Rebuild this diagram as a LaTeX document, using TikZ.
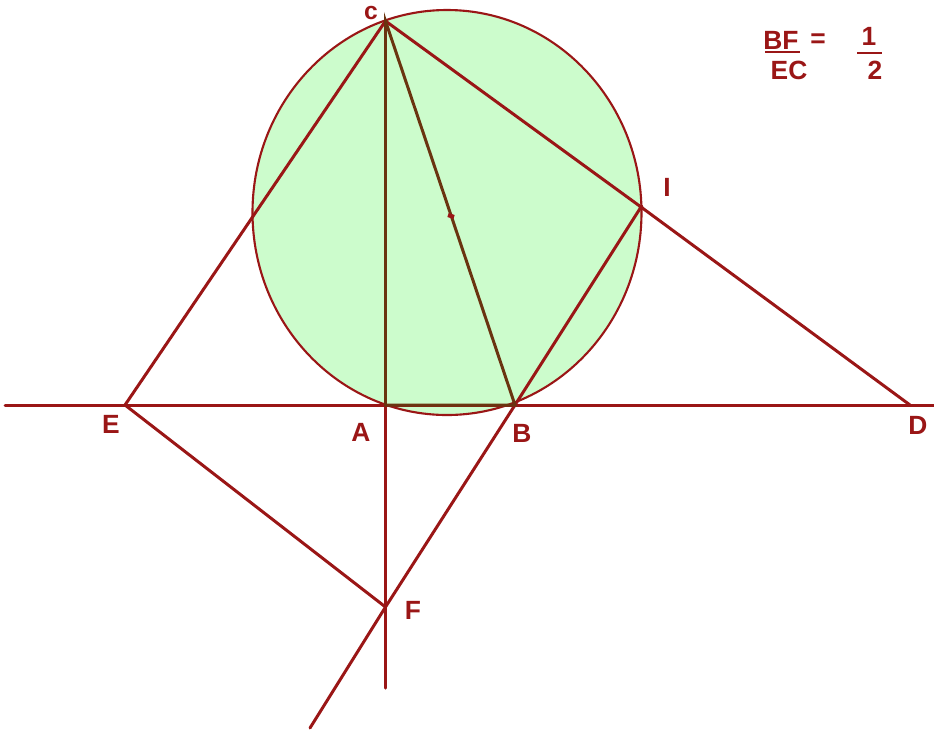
\documentclass[tikz,border=0pt]{standalone}
\usepackage{fontspec}
\setmainfont{Liberation Sans}
\usetikzlibrary{calc}
\definecolor{ink}{HTML}{9A1616}
\definecolor{brn}{HTML}{6A3410}
\definecolor{fillg}{HTML}{CCFCCC}
\begin{document}
\begin{tikzpicture}[x=0.02cm,y=-0.02cm,
  seg/.style={draw=ink,line width=1.7pt,line cap=round},
  tri/.style={draw=brn,line width=1.7pt,line cap=round},
  lbl/.style={text=ink,font=\fontsize{15}{15}\selectfont\bfseries,inner sep=0pt}]
\useasboundingbox (0,0) rectangle (934,735);
% circle
\filldraw[fill=fillg,draw=ink,line width=1.2pt] (447,212.5) ellipse [x radius=194.5,y radius=202.5];
% points
\coordinate (C) at (385.5,21);
\coordinate (A) at (385.5,405);
\coordinate (B) at (515,405);
\coordinate (I) at (641,207);
\coordinate (E) at (125,405);
\coordinate (D) at (910,405);
\coordinate (F) at (385.5,607);
\coordinate (L) at (5,405);
\coordinate (R) at (934,405);
\coordinate (Vb) at (385.5,688);
\coordinate (Lb) at (310,728);
\coordinate (M) at (451,216);
% lines
\draw[seg] (L) -- (R);
\draw[seg] (A) -- (Vb);
\draw[seg] (C) -- (E) -- (F);
\draw[seg] (C) -- (I) -- (D);
\draw[seg] (I) -- (B) -- (F) -- (Lb);
\draw[tri] (C) -- (A) -- (B) -- cycle;
\draw[ink,line width=2.4pt] ($(M)+(-3,-1)$) -- ($(M)+(3,1)$);
\fill[ink] (I) circle (2.4);
% labels
\node[lbl,font=\fontsize{14}{14}\selectfont\bfseries] (lC) at (371,13) {c};
\node[lbl] (lI) at (667,187) {I};
\node[lbl] (lE) at (111,424) {E};
\node[lbl] (lA) at (361,432) {A};
\node[lbl] (lB) at (522,433) {B};
\node[lbl] (lD) at (918,425) {D};
\node[lbl] (lF) at (413,610) {F};
% ratio
\node[lbl] (bf) at (781,40) {BF};
\node[lbl] (ec) at (789,70) {EC};
\draw[ink,line width=1.6pt] (765,52) -- (800,52);
\node[lbl] (eq) at (818,41) {=};
\node[lbl] (one) at (869,36) {1};
\node[lbl] (two) at (875,70) {2};
\draw[ink,line width=1.6pt] (857,53) -- (882,53);
\end{tikzpicture}
\end{document}
